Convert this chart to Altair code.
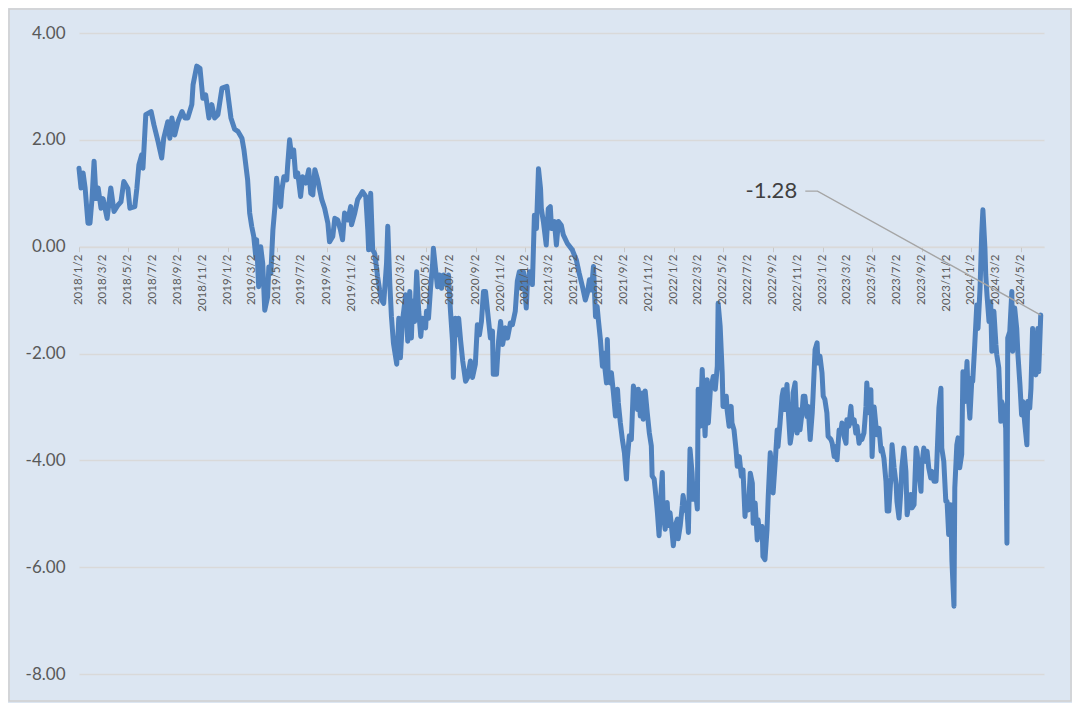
import altair as alt
import pandas as pd

# ---- data (day offset from 2018-01-02, index value) ----
days_a = [0, 5, 10, 15, 22, 27, 32, 37, 42, 47,
          54, 59, 69, 78, 86, 96, 103, 110, 120, 125,
          137, 142, 147, 154, 157, 164, 177, 184, 194, 203,
          208, 218, 223, 228, 235, 243, 253, 260, 267, 277,
          280, 289, 297, 304, 311, 319, 326, 333, 341, 351,
          363, 373, 382, 390, 400]
vals_a = [1.47, 1.10, 1.38, 1.10, 0.44, 0.44, 0.90, 1.60, 0.90, 1.10,
          0.72, 0.90, 0.53, 1.10, 0.66, 0.78, 0.84, 1.22, 1.09, 0.72,
          0.75, 1.09, 1.53, 1.72, 1.47, 2.47, 2.53, 2.28, 1.97, 1.66,
          2.03, 2.34, 2.03, 2.41, 2.09, 2.34, 2.53, 2.41, 2.41, 2.66,
          3.03, 3.38, 3.34, 2.78, 2.84, 2.41, 2.66, 2.41, 2.47, 2.97,
          3.00, 2.41, 2.20, 2.16, 2.03]

days_b = [405, 414, 419, 424, 429, 434, 436, 441, 446, 451,
          456, 463, 466, 471, 476, 481, 485, 490, 495, 498,
          503, 510, 512, 517, 522, 527, 532, 537, 544, 549,
          557, 564, 569, 574, 579, 586, 591, 596, 603, 611,
          615, 623, 628, 635, 642, 647, 652, 660, 667, 669,
          677, 684, 689, 696, 704, 709, 711, 716, 721, 726,
          733, 738, 743, 748, 755, 758, 763, 767, 772, 780,
          785, 789, 794]
vals_b = [1.81, 1.25, 0.63, 0.38, 0.19, -0.19, 0.13, -0.75, 0.00, -0.31,
          -1.19, -0.94, -0.38, -0.50, 0.31, 0.75, 1.28, 0.94, 0.75, 1.06,
          1.31, 1.25, 1.50, 2.00, 1.69, 1.81, 1.31, 1.38, 0.94, 1.31,
          1.19, 1.44, 1.00, 0.97, 1.44, 1.25, 1.06, 0.88, 0.72, 0.44,
          0.09, 0.19, 0.53, 0.50, 0.31, 0.13, 0.63, 0.50, 0.75, 0.41,
          0.63, 0.88, 0.94, 1.03, 0.94, 0.31, -0.06, 1.00, -0.06, -0.13,
          -0.56, -0.81, -1.00, -1.06, -0.31, 0.38, -0.69, -1.31, -1.81, -2.20,
          -1.34, -2.08, -1.40]

days_c = [802, 807, 812, 816, 819, 824, 829, 834, 839, 843,
          851, 853, 858, 863, 868, 870, 875, 880, 885, 890,
          895, 902, 907, 912, 917, 919, 924, 929, 932, 937,
          942, 949, 954, 961, 966, 973, 978, 983, 988, 993,
          998, 1003, 1010, 1015, 1017, 1025, 1030, 1035, 1040, 1047,
          1052, 1059, 1064, 1071, 1076, 1081, 1086, 1091, 1098, 1101,
          1106, 1111, 1113, 1118, 1123, 1128, 1133, 1135, 1140, 1147,
          1152, 1157, 1160, 1167, 1172, 1177, 1184, 1189]
vals_c = [-0.90, -1.77, -0.84, -1.71, -1.02, -1.40, -0.47, -1.21, -1.68, -1.34,
          -1.52, -1.21, -1.34, -0.78, -0.34, -0.03, -0.40, -0.75, -0.53, -0.78,
          -0.53, -0.71, -0.53, -1.21, -1.77, -2.45, -1.34, -1.65, -1.34, -1.77,
          -2.14, -2.52, -2.45, -2.14, -2.45, -2.20, -1.46, -1.65, -1.40, -0.84,
          -0.84, -1.21, -1.71, -1.58, -2.39, -2.39, -1.77, -1.40, -1.83, -1.52,
          -1.71, -1.43, -1.46, -1.21, -0.65, -0.47, -0.78, -0.47, -1.15, -0.65,
          -0.47, -0.59, -0.71, 0.59, 0.34, 1.46, 1.09, 0.71, 0.47, 0.03,
          0.71, 0.75, 0.34, 0.47, 0.03, 0.47, 0.40, 0.22]

days_d = [1199, 1211, 1221, 1228, 1236, 1243, 1248, 1253, 1258, 1263,
          1268, 1272, 1275, 1280, 1285, 1287, 1295, 1297, 1299, 1304,
          1307, 1312, 1317, 1322, 1324, 1329, 1334, 1339, 1344, 1346,
          1351, 1356, 1361, 1366, 1371, 1373, 1378, 1383, 1385, 1390,
          1395, 1400, 1405, 1407, 1412, 1417, 1420, 1424, 1429, 1432,
          1434, 1439, 1444, 1447, 1451, 1456, 1459, 1464, 1469, 1471,
          1476, 1481, 1483, 1488, 1493, 1496, 1500, 1505, 1508, 1513,
          1518, 1520, 1525, 1530, 1532, 1537, 1542, 1545, 1550, 1554,
          1557, 1562, 1567, 1569, 1574, 1579, 1581]
vals_d = [0.06, -0.06, -0.25, -0.50, -0.75, -1.00, -0.87, -0.62, -0.81, -0.37,
          -1.31, -1.12, -1.37, -1.74, -2.24, -1.99, -2.55, -1.74, -2.36, -2.55,
          -2.36, -2.74, -3.17, -2.67, -2.92, -3.30, -3.61, -3.86, -4.35, -3.98,
          -3.54, -3.61, -2.61, -2.80, -3.05, -2.67, -3.17, -2.74, -3.23, -2.70,
          -3.11, -3.48, -3.73, -4.29, -4.35, -4.73, -4.98, -5.41, -4.60, -4.23,
          -4.98, -5.29, -4.79, -5.22, -4.98, -5.35, -5.60, -5.22, -5.10, -5.47,
          -5.22, -4.85, -4.66, -4.91, -4.98, -5.35, -3.79, -4.23, -4.73, -4.54,
          -4.91, -2.67, -3.36, -2.30, -2.74, -3.54, -2.49, -3.30, -2.67, -2.55,
          -2.43, -2.67, -2.24, -1.06, -1.49, -2.36, -2.99]

days_e = [1589, 1591, 1596, 1601, 1603, 1608, 1613, 1616, 1621, 1626,
          1630, 1635, 1638, 1643, 1648, 1653, 1655, 1660, 1665, 1667,
          1672, 1677, 1679, 1684, 1689, 1692, 1697, 1702, 1704, 1709,
          1714, 1716, 1721, 1726, 1729, 1733, 1738, 1741, 1746, 1751,
          1753, 1758, 1763, 1765, 1770, 1775, 1778, 1782, 1787, 1790,
          1795, 1800, 1802, 1807, 1812, 1814, 1819, 1824, 1827, 1831,
          1836, 1839, 1846, 1849, 1854, 1858, 1861, 1866, 1871, 1873,
          1878, 1883, 1885, 1890, 1895, 1898, 1903, 1907, 1910, 1915,
          1920, 1922, 1927, 1932, 1934, 1939, 1944, 1947]
vals_e = [-2.80, -3.05, -3.36, -2.99, -3.30, -3.43, -3.80, -4.11, -3.93, -4.30,
          -4.18, -5.05, -4.68, -4.93, -4.24, -4.43, -5.18, -4.80, -5.49, -5.11,
          -5.43, -5.24, -5.80, -5.86, -5.30, -4.68, -3.86, -4.30, -4.61, -4.05,
          -3.43, -3.74, -3.30, -2.80, -2.68, -3.05, -2.58, -3.05, -3.68, -3.43,
          -2.74, -2.55, -3.49, -3.05, -3.43, -3.11, -2.80, -2.80, -3.18, -2.99,
          -3.61, -3.11, -2.80, -1.93, -1.80, -2.18, -2.05, -2.36, -2.80, -2.86,
          -3.11, -3.55, -3.61, -3.68, -3.93, -3.74, -3.99, -3.43, -3.43, -3.30,
          -3.55, -3.68, -3.24, -3.36, -2.99, -3.30, -3.24, -3.49, -3.36, -3.68,
          -3.55, -3.61, -3.49, -2.99, -2.55, -3.11, -2.68, -3.93]

days_f = [1952, 1957, 1959, 1964, 1969, 1971, 1976, 1981, 1984, 1988,
          1993, 1996, 2001, 2006, 2008, 2013, 2018, 2020, 2025, 2030,
          2033, 2037, 2042, 2045, 2050, 2055, 2057, 2062, 2067, 2069,
          2074, 2079, 2082, 2086, 2091, 2094, 2099, 2104, 2106, 2111,
          2116, 2118, 2123, 2128, 2131, 2135, 2140, 2143, 2148, 2150,
          2155, 2158, 2162, 2167, 2170, 2175, 2180, 2182, 2187, 2192,
          2194, 2199, 2204, 2207, 2212, 2214, 2216, 2219, 2224, 2226,
          2229, 2234, 2238, 2241, 2246, 2251, 2253, 2258, 2263, 2265,
          2270, 2275, 2278, 2280, 2285, 2290, 2292, 2297, 2302, 2305,
          2310, 2314, 2317, 2322, 2327, 2329, 2334, 2337, 2341, 2346,
          2349, 2354, 2356, 2361]
vals_f = [-3.00, -3.40, -3.52, -3.40, -3.83, -3.77, -3.96, -4.39, -4.95, -4.95,
          -4.33, -3.71, -4.14, -4.45, -4.77, -5.08, -4.52, -4.14, -3.77, -4.21,
          -5.02, -4.83, -4.64, -4.89, -4.83, -3.77, -3.83, -4.21, -4.58, -4.08,
          -3.77, -4.02, -3.83, -4.14, -4.33, -4.21, -4.39, -4.39, -4.02, -3.02,
          -2.65, -3.77, -4.02, -4.77, -4.77, -5.39, -4.83, -5.89, -6.73, -4.52,
          -3.71, -3.58, -4.14, -3.89, -2.34, -2.90, -2.15, -2.65, -3.21, -2.46,
          -2.52, -1.84, -1.09, -1.53, -0.78, -0.28, 0.22, 0.69, -0.03, -0.53,
          -0.90, -1.40, -1.03, -1.96, -1.21, -1.84, -2.02, -2.27, -3.27, -2.90,
          -3.02, -3.40, -5.55, -1.71, -1.59, -0.84, -1.96, -1.15, -1.53, -2.02,
          -2.59, -3.15, -2.90, -3.33, -3.71, -2.90, -3.02, -2.65, -1.53, -2.27,
          -2.40, -1.53, -2.34, -1.28]

tick_labels = ["2018/1/2", "2018/3/2", "2018/5/2", "2018/7/2", "2018/9/2", "2018/11/2",
               "2019/1/2", "2019/3/2", "2019/5/2", "2019/7/2", "2019/9/2", "2019/11/2",
               "2020/1/2", "2020/3/2", "2020/5/2", "2020/7/2", "2020/9/2", "2020/11/2",
               "2021/1/2", "2021/3/2", "2021/5/2", "2021/7/2", "2021/9/2", "2021/11/2",
               "2022/1/2", "2022/3/2", "2022/5/2", "2022/7/2", "2022/9/2", "2022/11/2",
               "2023/1/2", "2023/3/2", "2023/5/2", "2023/7/2", "2023/9/2", "2023/11/2",
               "2024/1/2", "2024/3/2", "2024/5/2"]
y_ticks = [-8, -6, -4, -2, 0, 2, 4]

start_date = "2018/1/2"
end_date = "2024/6/28"
annot_text = "-1.28"
annot_day = 1763
annot_value = 1.04
leader_days = [1783, 1813]

# ---- tables ----
days = days_a + days_b + days_c + days_d + days_e + days_f
vals = vals_a + vals_b + vals_c + vals_d + vals_e + vals_f
base = pd.Timestamp(start_date.replace("/", "-"))
df = pd.DataFrame({"date": base + pd.to_timedelta(days, unit="D"), "value": vals})

last_date = df["date"].iloc[-1]
last_val = df["value"].iloc[-1]
leader_df = pd.DataFrame({
    "date": [base + pd.Timedelta(days=d) for d in leader_days] + [last_date],
    "value": [annot_value, annot_value, last_val],
    "step": [0, 1, 2],
})
label_df = pd.DataFrame({"date": [base + pd.Timedelta(days=annot_day)],
                         "value": [annot_value], "label": [annot_text]})

tick_df = pd.DataFrame({
    "date": pd.to_datetime(tick_labels, format="%Y/%m/%d"),
    "label": tick_labels,
    "zero": [0] * len(tick_labels),
})


def dt(s):
    y, m, d = (int(p) for p in s.split("/"))
    return alt.DateTime(year=y, month=m, date=d)


tick_values = [dt(t) for t in tick_labels]

W, H = 965, 641
ymin, ymax = -8, 4
zero_offset = -H * (0 - ymin) / (ymax - ymin)

x_enc = alt.X(
    "date:T",
    title="",
    scale=alt.Scale(domain=[dt(start_date), dt(end_date)], nice=False),
    axis=alt.Axis(
        values=tick_values, labels=False,
        ticks=True, tickSize=5, tickColor="#C8C8C8", tickWidth=1,
        domain=True, domainColor="#D9D9D9", domainWidth=1.3,
        grid=False, offset=zero_offset, orient="bottom",
    ),
)
y_enc = alt.Y(
    "value:Q",
    title="",
    scale=alt.Scale(domain=[ymin, ymax], nice=False, zero=False),
    axis=alt.Axis(
        values=y_ticks,
        labelExpr="replace(format(datum.value, '.2f'), '\u2212', '-')",
        labelFont="Lato", labelFontSize=17, labelColor="#595959",
        labelPadding=14, ticks=False, domain=False,
        grid=True, gridColor="#D9D9D9", gridWidth=1.3,
    ),
)

xlabels = alt.Chart(tick_df).mark_text(
    angle=270, align="right", baseline="middle", dx=-8,
    font="Lato", fontSize=11.5, color="#595959"
).encode(x="date:T", y="zero:Q", text="label:N")

line = alt.Chart(df).mark_line(
    color="#4F81BD", strokeWidth=5, strokeJoin="round", strokeCap="round"
).encode(x=x_enc, y=y_enc)

leader = alt.Chart(leader_df).mark_line(color="#A5A5A5", strokeWidth=1.4).encode(
    x="date:T", y="value:Q", order="step:Q"
)

label = alt.Chart(label_df).mark_text(
    align="right", baseline="middle", font="Lato", fontSize=22, color="#404040"
).encode(x="date:T", y="value:Q", text="label:N")

frame = alt.Chart(alt.Data(values=[{}])).mark_rect(
    fillOpacity=0, stroke="#D0D0D0", strokeWidth=1.5
).encode(
    x=alt.value(-70), x2=alt.value(W + 27), y=alt.value(-24), y2=alt.value(H + 27)
)

chart = alt.layer(line, xlabels, leader, label, frame).properties(
    width=W, height=H,
    background="#DCE6F2",
    padding={"left": 71, "top": 25, "right": 28, "bottom": 29},
    autosize=alt.AutoSizeParams(type="none"),
).configure_view(stroke=None)

chart.save("out.html", embed_options={"renderer": "svg", "actions": False})
